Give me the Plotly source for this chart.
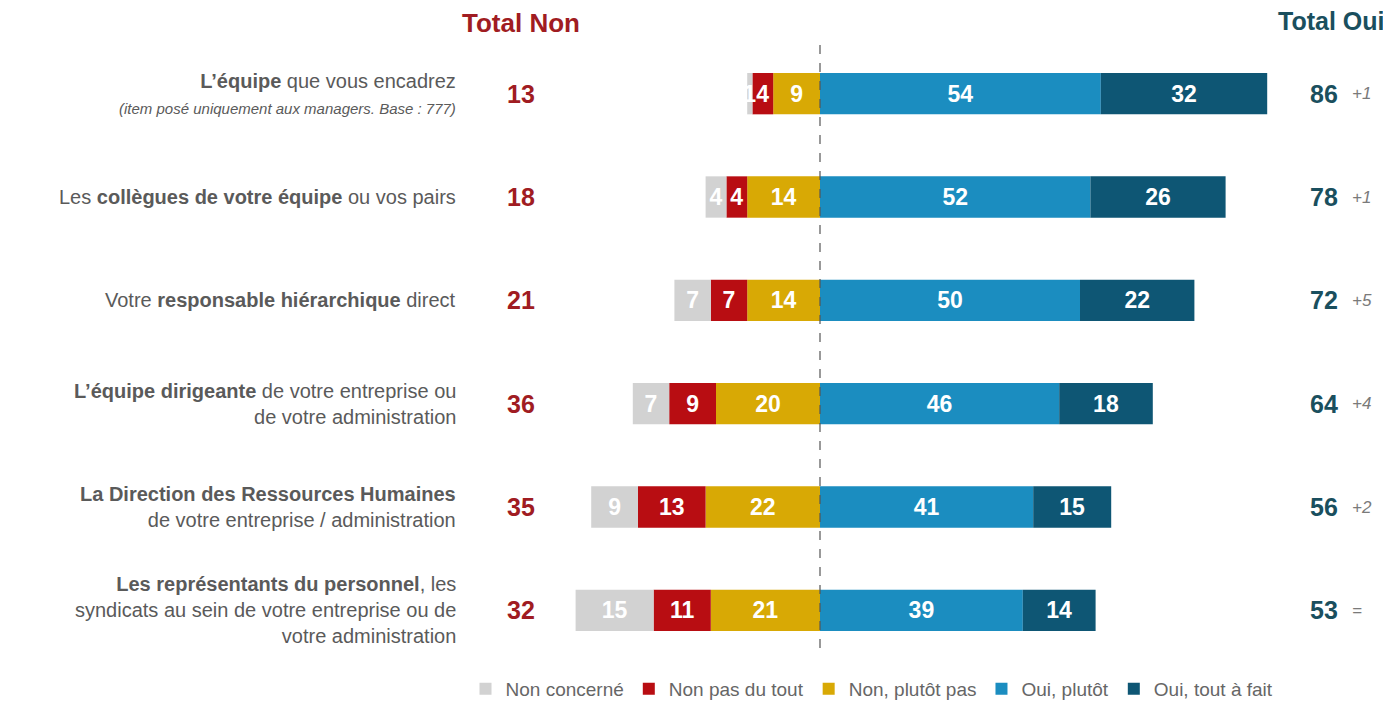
import plotly.graph_objects as go

# ---- data ----
items = [
    "<b>L’équipe</b> que vous encadrez<br><i><span style='font-size:15px'>(item posé uniquement aux managers. Base : 777)</span></i>",
    "Les <b>collègues de votre équipe</b> ou vos pairs",
    "Votre <b>responsable hiérarchique</b> direct",
    "<b>L’équipe dirigeante</b> de votre entreprise ou<br>de votre administration",
    "<b>La Direction des Ressources Humaines</b><br>de votre entreprise / administration",
    "<b>Les représentants du personnel</b>, les<br>syndicats au sein de votre entreprise ou de<br>votre administration",
]
non_concerne = [1, 4, 7, 7, 9, 15]
non_pas_du_tout = [4, 4, 7, 9, 13, 11]
non_plutot_pas = [9, 14, 14, 20, 22, 21]
oui_plutot = [54, 52, 50, 46, 41, 39]
oui_tout_a_fait = [32, 26, 22, 18, 15, 14]
total_non = [13, 18, 21, 36, 35, 32]
total_oui = [86, 78, 72, 64, 56, 53]
evolution = ["+1", "+1", "+5", "+4", "+2", "="]

# page offset (default body margin) and figure size
OFF = 8
W, H = 1391 - OFF, 708 - OFF
TOP_REF, BOT_REF = 42, 666          # plot area top/bottom in window pixels
PLOT_H = BOT_REF - TOP_REF
ZERO_PX = 820 - OFF
PX_PER_UNIT = 5.2
rows = list(range(len(items)))

def px_x(px):   # window pixel -> paper x
    return (px - OFF) / W

def px_y(py):   # window pixel -> paper y
    return (BOT_REF - py) / PLOT_H

C_GRAY = "#d2d2d2"
C_RED = "#b80d12"
C_GOLD = "#d8a905"
C_BLUE = "#1b8dc0"
C_TEAL = "#0e5674"
FONT = "Liberation Sans"

fig = go.Figure()

def add_bar(vals, name, color, sign, rank):
    fig.add_trace(go.Bar(
        x=[sign * v for v in vals], y=rows, orientation="h", name=name,
        marker=dict(color=color, line=dict(width=0)),
        text=[f"<b>{v}</b>" for v in vals], textposition="inside",
        insidetextanchor="middle",
        textfont=dict(color="white", size=23, family=FONT),
        width=0.40, legendrank=rank, hoverinfo="skip",
    ))

# negative side: stacked outward from zero
add_bar(non_plutot_pas, "Non, plutôt pas", C_GOLD, -1, 3)
add_bar(non_pas_du_tout, "Non pas du tout", C_RED, -1, 2)
add_bar(non_concerne, "Non concerné", C_GRAY, -1, 1)
add_bar(oui_plutot, "Oui, plutôt", C_BLUE, 1, 4)
add_bar(oui_tout_a_fait, "Oui, tout à fait", C_TEAL, 1, 5)

xmin = -ZERO_PX / PX_PER_UNIT
xmax = (W - ZERO_PX) / PX_PER_UNIT

ann = []
for i in rows:
    ann.append(dict(x=px_x(458), xref="paper", y=i, yref="y", text=items[i],
                    xanchor="right", yanchor="middle", align="right", showarrow=False,
                    font=dict(size=20, color="#5a5a5a", family=FONT)))
    ann.append(dict(x=px_x(521), xref="paper", y=i, yref="y", text=f"<b>{total_non[i]}</b>",
                    xanchor="center", yanchor="middle", showarrow=False,
                    font=dict(size=25, color="#a01c22", family=FONT)))
    ann.append(dict(x=px_x(1340), xref="paper", y=i, yref="y", text=f"<b>{total_oui[i]}</b>",
                    xanchor="right", yanchor="middle", showarrow=False,
                    font=dict(size=25, color="#1a4f5e", family=FONT)))
    ann.append(dict(x=px_x(1350), xref="paper", y=i, yref="y", text=f"<i>{evolution[i]}</i>",
                    xanchor="left", yanchor="middle", showarrow=False,
                    font=dict(size=17, color="#7a7a7a", family=FONT)))

ann.append(dict(x=px_x(521), xref="paper", y=px_y(23), yref="paper",
                text="<b>Total Non</b>", xanchor="center", yanchor="middle", showarrow=False,
                font=dict(size=26, color="#a01c22", family=FONT)))
ann.append(dict(x=px_x(1386), xref="paper", y=px_y(21), yref="paper",
                text="<b>Total Oui</b>", xanchor="right", yanchor="middle", showarrow=False,
                font=dict(size=25, color="#1a4f5e", family=FONT)))

fig.update_layout(
    width=W, height=H,
    margin=dict(l=0, r=0, t=TOP_REF - OFF, b=H - (BOT_REF - OFF)),
    paper_bgcolor="white", plot_bgcolor="white",
    barmode="relative",
    xaxis=dict(range=[xmin, xmax], visible=False, fixedrange=True),
    yaxis=dict(range=[5.5, -0.5], visible=False, fixedrange=True),
    showlegend=True,
    legend=dict(orientation="h", x=px_x(872), xanchor="center", y=px_y(693),
                yanchor="middle", font=dict(size=19, color="#666666", family=FONT),
                traceorder="normal", itemwidth=30, bgcolor="rgba(0,0,0,0)"),
    uniformtext=dict(minsize=23, mode="show"),
    annotations=ann,
    shapes=[dict(type="line", x0=0, x1=0, xref="x", y0=px_y(652), y1=px_y(45),
                 yref="paper", line=dict(color="#555555", width=1.2, dash="dash"))],
    font=dict(family=FONT),
)

fig.write_html("out.html")
